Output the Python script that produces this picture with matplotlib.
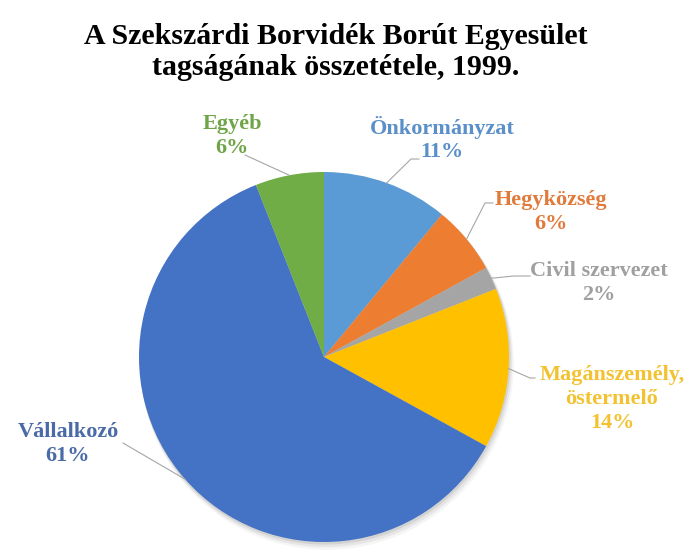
import matplotlib.pyplot as plt
import numpy as np
from matplotlib.patches import Circle

# data, clockwise from 12 o'clock
labels = ['Önkormányzat', 'Hegyközség', 'Civil szervezet',
          'Magánszemély,\nöstermelő', 'Vállalkozó', 'Egyéb']
shares = [11, 6, 2, 14, 61, 6]
colors = ['#5B9BD5', '#ED7D31', '#A5A5A5', '#FFC000', '#4472C4', '#70AD47']
text_colors = ['#5B8FC8', '#E07B3C', '#A0A0A0', '#F2C230', '#4A6AA8', '#6FA548']
title = 'A Szekszárdi Borvidék Borút Egyesület\ntagságának összetétele, 1999.'

W, H = 695, 554
cx, cy, r = 324, 357, 185

# label layout in pixel coords (top-left origin): text center, leader line points
label_pos = [(442, 139), (551, 212), (599, 283), (612, 399), (68, 444), (232, 136)]
leader_start = [[(419, 159), (411, 159)], [(493, 203), (485, 203)], [(530, 276), (514, 276)],
                [(535, 378), (530, 378)], [(123, 443)], [(245, 155)]]

plt.rcParams['font.family'] = ['Liberation Serif', 'DejaVu Serif']

fig = plt.figure(figsize=(W / 100, H / 100), dpi=100)
ax = fig.add_axes([0, 0, 1, 1])

# soft shadow under the pie
for d, a in [(6, 0.04), (4, 0.06), (2, 0.08)]:
    ax.add_patch(Circle((cx + d * 0.5, cy + d), r + d * 0.3, color='black', alpha=a, lw=0, zorder=1))

# y axis is inverted, so counterclock=True draws clockwise on screen
wedges, _ = ax.pie(shares, colors=colors, startangle=-90, counterclock=True,
                   center=(cx, cy), radius=r, frame=True,
                   wedgeprops=dict(linewidth=0, zorder=2))
ax.set_xlim(0, W)
ax.set_ylim(H, 0)
ax.set_aspect('equal')
ax.axis('off')

cum = np.cumsum([0] + shares)
for i, lab in enumerate(labels):
    mid = (cum[i] + cum[i + 1]) / 2 / 100 * 2 * np.pi
    ex = cx + r * np.sin(mid)
    ey = cy - r * np.cos(mid)
    pts = leader_start[i] + [(ex, ey)]
    ax.plot([p[0] for p in pts], [p[1] for p in pts], color='#a6a6a6', lw=0.8, zorder=3)
    tx, ty = label_pos[i]
    ax.text(tx, ty, f'{lab}\n{shares[i]}%', ha='center', va='center', fontsize=16,
            fontweight='bold', color=text_colors[i], linespacing=1.25, zorder=4)

ax.text(336, 52, title, ha='center', va='center', fontsize=21.5, fontweight='bold',
        color='black', linespacing=1.22)

fig.savefig('out.png', dpi=100, facecolor='white')
